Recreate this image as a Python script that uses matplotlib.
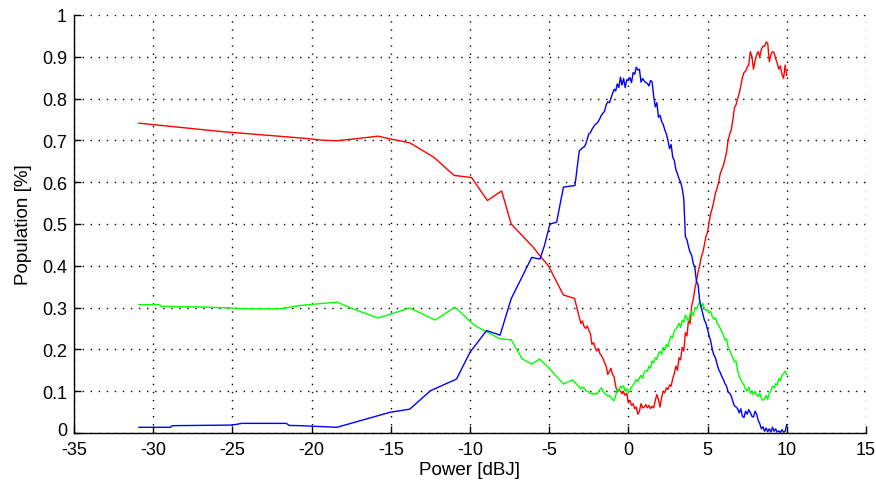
import numpy as np
import matplotlib
matplotlib.use('Agg')
import matplotlib.pyplot as plt
import matplotlib.transforms as mtransforms
from matplotlib.ticker import FormatStrFormatter

plt.rcParams['font.family'] = ['Liberation Sans', 'DejaVu Sans']
plt.rcParams['axes.unicode_minus'] = False

# ---- coarse part (low power) ----
redX = [-30.9, -29.6, -28.3, -27.0, -25.7, -24.4, -23.1, -21.8, -20.5, -19.2, -18.4, -17.4,
        -15.8, -15.0, -13.8, -12.3, -11.0, -9.9, -8.9, -8.0, -7.4, -6.0, -5.5, -5.05, -4.1, -3.4]
redY = [0.741, 0.736, 0.731, 0.726, 0.721, 0.717, 0.713, 0.709, 0.705, 0.700, 0.699, 0.703,
        0.710, 0.703, 0.694, 0.660, 0.616, 0.611, 0.556, 0.579, 0.500, 0.444, 0.420, 0.400, 0.330, 0.322]

blueX = [-30.9, -28.9, -28.8, -25.0, -24.4, -21.6, -21.4, -20.7, -18.4, -15.05, -13.8, -12.5,
         -10.85, -10.0, -8.95, -8.1, -7.4, -6.1, -5.58, -5.3, -4.95, -4.53, -4.1, -3.37, -3.1]
blueY = [0.0136, 0.0136, 0.0175, 0.019, 0.023, 0.023, 0.018, 0.0175, 0.0136, 0.0495, 0.057, 0.101,
         0.129, 0.193, 0.245, 0.234, 0.321, 0.420, 0.416, 0.448, 0.500, 0.504, 0.588, 0.592, 0.675]

greenX = [-30.9, -29.6, -29.5, -26.6, -23.9, -22.0, -20.7, -18.4, -17.4, -15.8, -13.8, -12.2,
          -10.95, -9.7, -8.1, -7.4, -6.7, -6.1, -5.6, -5.05, -4.1, -3.5]
greenY = [0.307, 0.307, 0.303, 0.301, 0.297, 0.297, 0.305, 0.313, 0.297, 0.275, 0.299, 0.270,
          0.301, 0.257, 0.225, 0.223, 0.177, 0.165, 0.177, 0.157, 0.117, 0.127]

# ---- fine part (-3 .. 10 dBJ, step 0.1) ----
fineX = np.round(np.arange(-3.0, 10.05, 0.1), 2)

redFine = [0.262, 0.268, 0.255, 0.250, 0.256, 0.246, 0.238, 0.212, 0.216, 0.205,
           0.196, 0.202, 0.190, 0.185, 0.178, 0.168, 0.160, 0.140, 0.147, 0.155,
           0.140, 0.134, 0.112, 0.098, 0.104, 0.100, 0.094, 0.098, 0.090, 0.095,
           0.072, 0.078, 0.066, 0.070, 0.058, 0.062, 0.045, 0.052, 0.070, 0.060,
           0.062, 0.068, 0.060, 0.066, 0.058, 0.064, 0.060, 0.078, 0.092, 0.080,
           0.062, 0.085, 0.100, 0.096, 0.108, 0.104, 0.115, 0.112, 0.130, 0.142,
           0.160, 0.150, 0.180, 0.175, 0.205, 0.196, 0.240, 0.232, 0.270, 0.262,
           0.305, 0.320, 0.345, 0.362, 0.385, 0.400, 0.420, 0.432, 0.450, 0.470,
           0.480, 0.505, 0.525, 0.538, 0.555, 0.575, 0.585, 0.600, 0.620, 0.630,
           0.640, 0.655, 0.672, 0.700, 0.715, 0.725, 0.750, 0.778, 0.785, 0.800,
           0.812, 0.830, 0.850, 0.862, 0.865, 0.875, 0.880, 0.912, 0.900, 0.870,
           0.890, 0.905, 0.912, 0.900, 0.918, 0.925, 0.925, 0.935, 0.932, 0.888,
           0.905, 0.912, 0.910, 0.895, 0.885, 0.870, 0.878, 0.858, 0.848, 0.880,
           0.855]

blueFine = [0.678, 0.682, 0.684, 0.690, 0.702, 0.715, 0.718, 0.726, 0.732, 0.738,
            0.740, 0.745, 0.752, 0.760, 0.765, 0.770, 0.785, 0.792, 0.790, 0.800,
            0.812, 0.822, 0.818, 0.835, 0.826, 0.851, 0.832, 0.848, 0.826, 0.845,
            0.843, 0.850, 0.838, 0.862, 0.858, 0.875, 0.868, 0.870, 0.839, 0.848,
            0.842, 0.838, 0.836, 0.830, 0.843, 0.840, 0.805, 0.780, 0.790, 0.755,
            0.760, 0.745, 0.738, 0.725, 0.715, 0.700, 0.680, 0.690, 0.660, 0.652,
            0.630, 0.620, 0.608, 0.600, 0.585, 0.560, 0.470, 0.462, 0.445, 0.432,
            0.425, 0.405, 0.395, 0.362, 0.355, 0.318, 0.300, 0.285, 0.270, 0.262,
            0.248, 0.232, 0.220, 0.200, 0.186, 0.180, 0.165, 0.152, 0.145, 0.135,
            0.128, 0.118, 0.112, 0.098, 0.095, 0.088, 0.075, 0.065, 0.062, 0.058,
            0.048, 0.058, 0.040, 0.037, 0.052, 0.045, 0.056, 0.049, 0.040, 0.038,
            0.052, 0.045, 0.030, 0.022, 0.010, 0.015, 0.004, 0.012, 0.003, 0.010,
            0.002, 0.014, 0.004, 0.010, 0.002, 0.005, 0.001, 0.008, 0.002, 0.004,
            0.020]

greenFine = [0.105, 0.110, 0.108, 0.102, 0.100, 0.098, 0.094, 0.096, 0.092, 0.095,
             0.093, 0.097, 0.104, 0.108, 0.100, 0.095, 0.092, 0.088, 0.090, 0.085,
             0.080, 0.077, 0.090, 0.105, 0.100, 0.112, 0.108, 0.113, 0.100, 0.106,
             0.097, 0.103, 0.110, 0.115, 0.120, 0.128, 0.122, 0.132, 0.138, 0.130,
             0.145, 0.150, 0.148, 0.160, 0.155, 0.172, 0.168, 0.180, 0.176, 0.190,
             0.195, 0.188, 0.205, 0.198, 0.212, 0.206, 0.222, 0.232, 0.228, 0.245,
             0.248, 0.255, 0.262, 0.252, 0.270, 0.265, 0.282, 0.275, 0.268, 0.285,
             0.290, 0.280, 0.300, 0.296, 0.305, 0.314, 0.300, 0.310, 0.298, 0.293,
             0.295, 0.288, 0.290, 0.278, 0.272, 0.276, 0.262, 0.258, 0.250, 0.242,
             0.235, 0.222, 0.225, 0.205, 0.198, 0.188, 0.180, 0.170, 0.172, 0.150,
             0.135, 0.128, 0.120, 0.115, 0.105, 0.100, 0.110, 0.095, 0.098, 0.092,
             0.100, 0.090, 0.088, 0.095, 0.083, 0.078, 0.082, 0.090, 0.080, 0.095,
             0.100, 0.112, 0.108, 0.118, 0.115, 0.130, 0.125, 0.138, 0.142, 0.148,
             0.140]

xTicks = [-35, -30, -25, -20, -15, -10, -5, 0, 5, 10, 15]
yTicks = [0, 0.1, 0.2, 0.3, 0.4, 0.5, 0.6, 0.7, 0.8, 0.9, 1]

fig = plt.figure(figsize=(8.76, 4.89), dpi=100)
ax = fig.add_axes([0.0845, 0.1125, 0.904, 0.855])

lw = 1.0
ax.plot(np.concatenate([redX, fineX]), np.concatenate([redY, redFine]), color='#ff0000', lw=lw)
ax.plot(np.concatenate([greenX, fineX]), np.concatenate([greenY, greenFine]), color='#00ff00', lw=lw)
ax.plot(np.concatenate([blueX, fineX]), np.concatenate([blueY, blueFine]), color='#0000ff', lw=lw)

ax.set_xlim(-35, 15)
ax.set_ylim(0, 1)
ax.set_xticks(xTicks)
ax.set_yticks(yTicks)
ax.xaxis.set_major_formatter(FormatStrFormatter('%g'))
ax.yaxis.set_major_formatter(FormatStrFormatter('%g'))
ax.tick_params(direction='in', length=5, width=1, labelsize=13, colors='black')
ax.tick_params(axis='x', pad=6)
ax.tick_params(axis='y', pad=5)
for s in ['top', 'right']:
    ax.spines[s].set_visible(False)
for s in ['left', 'bottom']:
    ax.spines[s].set_linewidth(1.0)
ax.grid(True, color='black', linestyle=(0, (1, 4.8)), linewidth=1.0)
ax.set_axisbelow(True)
ax.set_xlabel('Power [dBJ]', fontsize=13.5, labelpad=2)
ax.set_ylabel('Population [%]', fontsize=13.5, labelpad=7)

# nudge the "0" y label up a little so it clears the "-35" x label
fig.canvas.draw()
lab0 = ax.get_yticklabels()[0]
lab0.set_transform(lab0.get_transform() + mtransforms.ScaledTranslation(0, 3 / 72, fig.dpi_scale_trans))

fig.savefig('out.png', dpi=100)
